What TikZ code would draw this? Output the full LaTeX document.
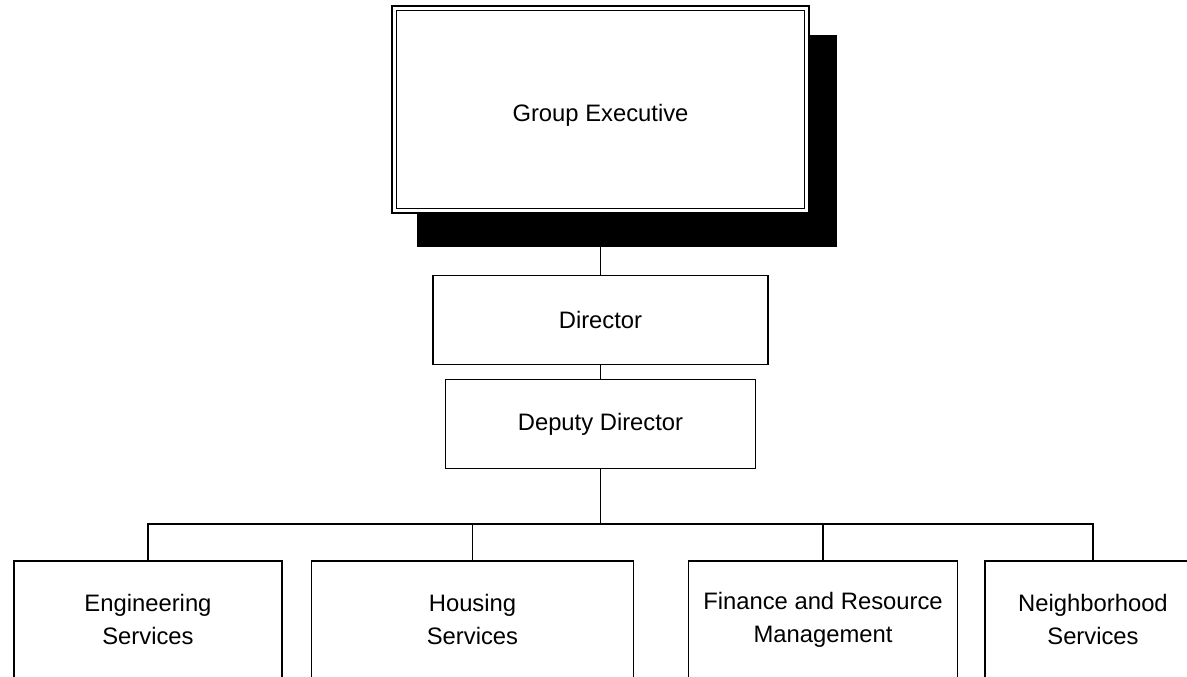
\documentclass[tikz,border=0pt]{standalone}
\usepackage{fontspec}
\setmainfont{Liberation Sans}
\usetikzlibrary{backgrounds}
\tikzset{
  unit/.style={draw, line width=1.6pt, fill=white, align=center, inner sep=0pt,
    font=\fontsize{23.8}{33}\selectfont},
  topunit/.style={unit, double, double distance=3.2pt, line width=1.6pt},
  link/.style={line width=1.2pt}}

\begin{document}
\begin{tikzpicture}[x=1pt,y=-1pt]
\path[use as bounding box, clip] (0,0) rectangle (1187,677);
\node[topunit, minimum width=412.5pt, minimum height=202.5pt, text height=29pt, text depth=5pt] (exec) at (600.5,109.5) {Group Executive};
\begin{scope}[on background layer]
\fill ([shift={(23.5,27.5)}]exec.north west) rectangle ([shift={(29.5,35.5)}]exec.south east);
\end{scope}
\node[unit, minimum width=335.5pt, minimum height=89pt] (dir) at (600.5,320) {Director};
\node[unit, minimum width=310pt, minimum height=89pt] (dep) at (600.5,424) {Deputy Director};
\node[unit, anchor=north, minimum width=268.5pt, minimum height=118pt] (eng) at (148,560) {Engineering\\Services};
\node[unit, anchor=north, minimum width=322pt, minimum height=118pt] (hous) at (472.5,560) {Housing\\Services};
\node[unit, anchor=north, minimum width=269pt, minimum height=118pt] (fin) at (823,560) {Finance and Resource\\Management};
\node[unit, anchor=north, minimum width=216pt, minimum height=118pt] (nbh) at (1093,560) {Neighborhood\\Services};
\coordinate (bus) at (600.5,524);
\draw[link] (exec.south) -- (dir.north);
\draw[link] (dir.south) -- (dep.north);
\draw[link] (dep.south) -- (bus);
\draw[link] (eng.north) |- (bus) -| (nbh.north);
\foreach \d in {hous,fin}
  \draw[link] (\d.north) -- (\d.north |- bus);
\end{tikzpicture}
\end{document}
